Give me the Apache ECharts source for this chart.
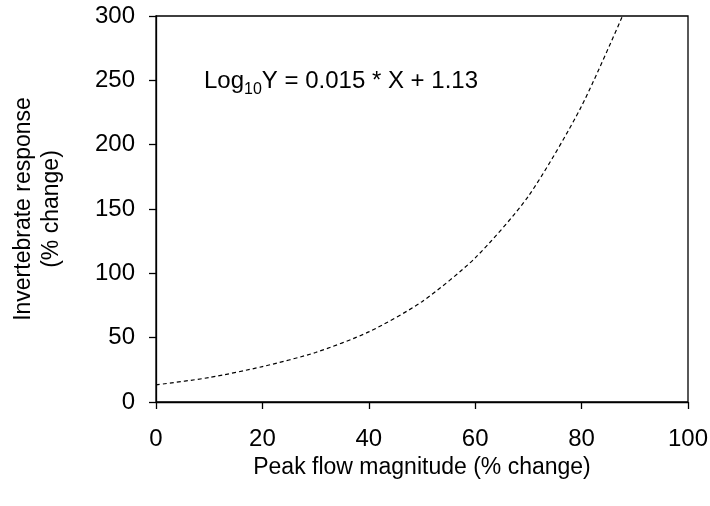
<!DOCTYPE html>
<html>
<head>
<meta charset="utf-8">
<script src="https://cdn.jsdelivr.net/npm/echarts@6/dist/echarts.min.js"></script>
<style>
html,body{margin:0;padding:0;background:#fff;}
#chart{width:710px;height:506px;}
</style>
</head>
<body>
<div id="chart"></div>
<script>
var xValues = [0, 10, 20, 30, 40, 50, 60, 70, 80, 90];
var yValues = [13.3, 19, 27.5, 38.5, 54.5, 78, 112, 160, 230, 322];
var xTicks = {min: 0, max: 100, interval: 20};
var yTicks = {min: 0, max: 300, interval: 50};
var xTitle = 'Peak flow magnitude (% change)';
var yTitle = 'Invertebrate response\n(% change)';
var FONT = '"Liberation Sans", Arial, sans-serif';

var chart = echarts.init(document.getElementById('chart'));
var data = xValues.map(function (x, i) { return [x, yValues[i]]; });

chart.setOption({
  animation: false,
  backgroundColor: '#fff',
  grid: {left: 156, right: 22, top: 16, bottom: 104, show: true, borderColor: '#000', borderWidth: 1.3, containLabel: false, outerBoundsMode: 'none'},
  xAxis: {
    type: 'value', min: xTicks.min, max: xTicks.max, interval: xTicks.interval,
    name: xTitle, nameLocation: 'middle', nameGap: 52,
    nameTextStyle: {fontFamily: FONT, fontSize: 23, color: '#000'},
    axisLine: {show: true, onZero: false, lineStyle: {color: '#000', width: 1.3}},
    axisTick: {show: true, inside: false, length: 7, lineStyle: {color: '#000', width: 1.3}},
    axisLabel: {fontFamily: FONT, fontSize: 24, color: '#000', margin: 25},
    splitLine: {show: false}
  },
  yAxis: {
    type: 'value', min: yTicks.min, max: yTicks.max, interval: yTicks.interval,
    name: yTitle, nameLocation: 'middle', nameGap: 90, nameRotate: 90,
    nameTextStyle: {fontFamily: FONT, fontSize: 23, color: '#000', lineHeight: 28, align: 'center'},
    axisLine: {show: true, onZero: false, lineStyle: {color: '#000', width: 1.3}},
    axisTick: {show: true, inside: false, length: 7, lineStyle: {color: '#000', width: 1.3}},
    axisLabel: {fontFamily: FONT, fontSize: 24, color: '#000', margin: 21},
    splitLine: {show: false}
  },
  graphic: [{
    type: 'text', left: 204, top: 69,
    style: {
      text: '{n|Log}{s|10}{n|Y = 0.015 * X + 1.13}',
      rich: {
        n: {fontFamily: FONT, fontSize: 24, fill: '#000', verticalAlign: 'top', lineHeight: 29},
        s: {fontFamily: FONT, fontSize: 16, fill: '#000', verticalAlign: 'top', lineHeight: 16, padding: [13, 0, 0, 0]}
      }
    }
  }],
  series: [{
    type: 'line', data: data, showSymbol: false, symbol: 'none', smooth: 0.25, clip: true,
    lineStyle: {color: '#000', width: 1.2, type: [4, 3]}
  }]
});
</script>
</body>
</html>
